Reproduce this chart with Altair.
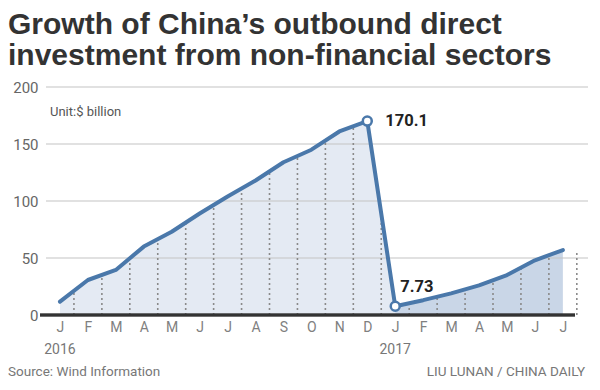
import altair as alt
import pandas as pd

months = ["J", "F", "M", "A", "M", "J", "J", "A", "S", "O", "N", "D",
          "J", "F", "M", "A", "M", "J", "J"]
values = [11.7, 30.7, 39.5, 60, 73, 89, 104, 118, 134, 145, 161, 170.1,
          7.73, 13, 19, 26, 35, 48, 57]
grid_values = [50, 100, 150, 200]
years = ["2016", "2017"]
year_idx = [0, 12]
callout_idx = [11, 12]
callout_text = ["170.1", "7.73"]

df = pd.DataFrame({"idx": list(range(len(values))), "value": values, "month": months})
df_years = pd.DataFrame({"idx": year_idx, "label": years})
df_grid = pd.DataFrame({"v": grid_values})
df_call = pd.DataFrame({"idx": callout_idx,
                        "value": [values[i] for i in callout_idx],
                        "label": callout_text})

W, H = 542, 228
LINE = "#4a78aa"
FONT = "Roboto"

xs = alt.Scale(domain=[-0.5, 18.9], nice=False, zero=False)
ys = alt.Scale(domain=[0, 200], nice=False)

label_arr = "[" + ",".join("'%s'" % m for m in months) + "]"

base = alt.Chart(df)

x_axis = alt.Axis(values=list(range(len(months))), labelExpr=label_arr + "[datum.value]",
                  title=None, ticks=False, domain=False, grid=False,
                  labelOverlap=False, labelFlush=False, labelBound=False,
                  labelFont=FONT, labelFontSize=14, labelColor="#808080",
                  labelPadding=5)
y_axis = alt.Axis(values=[0, 50, 100, 150, 200], title=None, ticks=False, domain=False,
                  grid=False, labelFont=FONT, labelFontSize=15, labelColor="#666",
                  labelPadding=8, labelOverlap=False)

X = lambda f: alt.X(f, scale=xs, axis=x_axis)
Y = lambda f: alt.Y(f, scale=ys, axis=y_axis)

area_light = base.transform_filter("datum.idx <= 12").mark_area(color="#e4eaf3").encode(
    x=X("idx:Q"), y=Y("value:Q"),
)
area_dark = base.transform_filter("datum.idx >= 12").mark_area(color="#c9d6e7").encode(
    x=X("idx:Q"), y=Y("value:Q"),
)

dotted = base.transform_window(
    nxt="lead(value)", sort=[alt.SortField("idx")]
).transform_calculate(
    xm="datum.idx + 0.5",
    top="datum.nxt == null ? datum.value : (datum.value + datum.nxt) / 2",
    zero="0",
).mark_rule(color="#8a8a8a", strokeDash=[2, 3], strokeWidth=1.6).encode(
    x=X("xm:Q"), y=Y("zero:Q"), y2="top:Q",
)

grid = alt.Chart(df_grid).mark_rule(color="#c4c4c4", strokeWidth=1.2).encode(
    y=Y("v:Q")
)

baseline = alt.Chart(df_grid).transform_calculate(zero="0").mark_rule(
    color="#333", strokeWidth=2.5
).encode(
    y=Y("zero:Q"), x=alt.value(-6), x2=alt.value(529)
)

line = base.mark_line(color=LINE, strokeWidth=4, strokeCap="round", strokeJoin="round").encode(
    x=X("idx:Q"), y=Y("value:Q"),
)

points = alt.Chart(df_call).mark_point(
    shape="circle", filled=True, fill="white", stroke=LINE, strokeWidth=2.5, size=80, opacity=1
).encode(x=X("idx:Q"), y=Y("value:Q"))

lab_hi = alt.Chart(df_call).transform_filter("datum.idx == 11").mark_text(
    align="left", baseline="middle", dx=18, dy=0, font=FONT, fontSize=16.5,
    fontWeight="bold", color="#222"
).encode(x=X("idx:Q"), y=Y("value:Q"), text="label:N")

lab_lo = alt.Chart(df_call).transform_filter("datum.idx == 12").mark_text(
    align="left", baseline="middle", dx=5, dy=-19, font=FONT, fontSize=16.5,
    fontWeight="bold", color="#222"
).encode(x=X("idx:Q"), y=Y("value:Q"), text="label:N")

year_text = alt.Chart(df_years).mark_text(
    align="center", baseline="middle", font=FONT, fontSize=14, color="#777"
).encode(x=X("idx:Q"), y=alt.value(263), text="label:N")

unit_text = alt.Chart(df_years).transform_filter("datum.idx == 0").mark_text(
    align="left", baseline="middle", font=FONT, fontSize=13, color="#555",
    text="Unit:$ billion"
).encode(x=alt.value(4), y=alt.value(25))

source_text = alt.Chart(df_years).transform_filter("datum.idx == 0").mark_text(
    align="left", baseline="middle", font=FONT, fontSize=13.5, color="#777",
    text="Source: Wind Information"
).encode(x=alt.value(-38), y=alt.value(285))

credit_text = alt.Chart(df_years).transform_filter("datum.idx == 0").mark_text(
    align="right", baseline="middle", font=FONT, fontSize=13.5, color="#777",
    text="LIU LUNAN / CHINA DAILY"
).encode(x=alt.value(539), y=alt.value(285))

chart = alt.layer(
    area_light, area_dark, grid, dotted, baseline, line, points,
    lab_hi, lab_lo, year_text, unit_text, source_text, credit_text
).properties(
    width=W, height=H,
    title=alt.TitleParams(
        text=["Growth of China\u2019s outbound direct",
              "investment from non-financial sectors"],
        anchor="start", frame="group", dx=-38, offset=9, font="Liberation Sans",
        fontSize=30, fontWeight="bold", color="#333", lineHeight=31
    ),
    autosize=alt.AutoSizeParams(type="none"),
    padding={"left": 38, "top": 79, "right": 4, "bottom": 67},
).configure_view(stroke=None).configure_axis(labelOverlap=False)

chart.save("out.html", embed_options={"renderer": "svg", "actions": False})
